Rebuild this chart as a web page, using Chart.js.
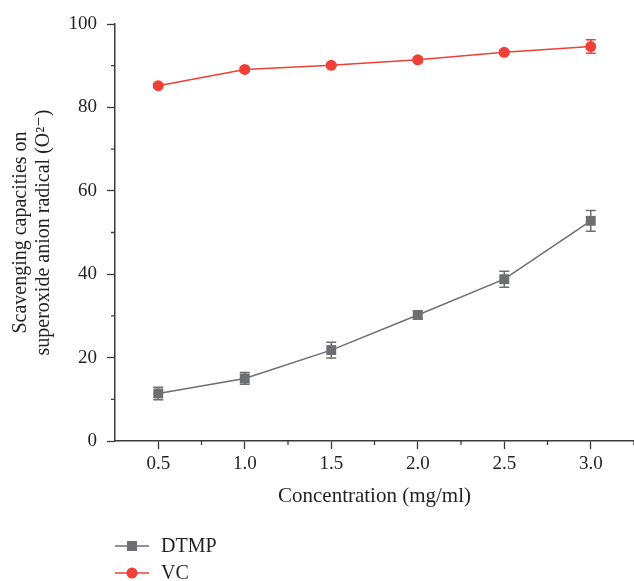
<!DOCTYPE html>
<html>
<head>
<meta charset="utf-8">
<script src="https://cdn.jsdelivr.net/npm/chart.js@4"></script>
<style>
  html, body { margin: 0; padding: 0; background: #fff; }
  #wrap { width: 634px; height: 581px; }
</style>
</head>
<body>
<div id="wrap"><canvas id="scavenging-chart" width="634" height="581"></canvas></div>
<script>
// values
const concentrations = [0.5, 1.0, 1.5, 2.0, 2.5, 3.0];
const dtmpValues = [11.4, 15.0, 21.8, 30.2, 38.8, 52.8];
const dtmpErrors = [1.5, 1.4, 1.9, 1.0, 1.9, 2.5];
const vcValues = [85.2, 89.1, 90.1, 91.4, 93.2, 94.6];
const vcErrors = [0.5, 0.5, 0.5, 0.6, 0.6, 1.6];
const xTicks = [0.5, 1.0, 1.5, 2.0, 2.5, 3.0];
const xMinorTicks = [0.75, 1.25, 1.75, 2.25, 2.75, 3.25];
const yTicks = [0, 20, 40, 60, 80, 100];
const yMinorTicks = [10, 30, 50, 70, 90];

const GRAY = "#6d6e71";
const RED = "#ee4036";
const AXIS = "#3a3a3a";
const TEXT = "#231f20";
const SERIF = "'Liberation Serif', 'DejaVu Serif', serif";

function points(values) {
  return concentrations.map((c, i) => ({ x: c, y: values[i] }));
}

const errorBars = {
  id: "errorBars",
  beforeDatasetsDraw(chart) {
    const ctx = chart.ctx;
    const ys = chart.scales.y;
    chart.data.datasets.forEach((ds, di) => {
      const meta = chart.getDatasetMeta(di);
      ctx.save();
      ctx.strokeStyle = ds.borderColor;
      ctx.lineWidth = 1.5;
      meta.data.forEach((pt, i) => {
        let err = ds.errors[i];
        let top = ys.getPixelForValue(ds.data[i].y + err);
        let bot = ys.getPixelForValue(ds.data[i].y - err);
        ctx.beginPath();
        ctx.moveTo(pt.x, top); ctx.lineTo(pt.x, bot);
        ctx.moveTo(pt.x - 5, top); ctx.lineTo(pt.x + 5, top);
        ctx.moveTo(pt.x - 5, bot); ctx.lineTo(pt.x + 5, bot);
        ctx.stroke();
      });
      ctx.restore();
    });
  },
};

const minorTicks = {
  id: "minorTicks",
  afterDraw(chart) {
    const ctx = chart.ctx;
    const { x, y } = chart.scales;
    const area = chart.chartArea;
    ctx.save();
    ctx.strokeStyle = AXIS;
    ctx.lineWidth = 1.3;
    ctx.beginPath();
    for (let v of yMinorTicks) {
      let py = y.getPixelForValue(v);
      ctx.moveTo(area.left - 4, py); ctx.lineTo(area.left, py);
    }
    for (let v of xMinorTicks) {
      let px = x.getPixelForValue(v);
      ctx.moveTo(px, area.bottom); ctx.lineTo(px, area.bottom + 4);
    }
    ctx.stroke();
    ctx.restore();
  },
};

const bottomLegend = {
  id: "bottomLegend",
  afterDraw(chart) {
    const ctx = chart.ctx;
    ctx.save();
    chart.data.datasets.forEach((ds, i) => {
      let cy = 546 + i * 27;
      ctx.strokeStyle = ds.borderColor;
      ctx.lineWidth = 1.5;
      ctx.beginPath();
      ctx.moveTo(115, cy); ctx.lineTo(149, cy);
      ctx.stroke();
      ctx.fillStyle = ds.pointBackgroundColor;
      if (ds.pointStyle === "rect") {
        ctx.fillRect(127, cy - 5, 10, 10);
      } else {
        ctx.beginPath();
        ctx.arc(132, cy, 5.5, 0, Math.PI * 2);
        ctx.fill();
      }
      ctx.fillStyle = TEXT;
      ctx.font = "20px " + SERIF;
      ctx.textBaseline = "middle";
      ctx.fillText(ds.label, 161, cy + 1);
    });
    ctx.restore();
  },
};

new Chart(document.getElementById("scavenging-chart"), {
  type: "line",
  data: {
    datasets: [
      {
        label: "DTMP",
        data: points(dtmpValues),
        errors: dtmpErrors,
        borderColor: GRAY,
        borderWidth: 1.5,
        pointStyle: "rect",
        pointRadius: 7,
        pointBackgroundColor: GRAY,
        pointBorderColor: GRAY,
        pointBorderWidth: 0,
        clip: false,
      },
      {
        label: "VC",
        data: points(vcValues),
        errors: vcErrors,
        borderColor: RED,
        borderWidth: 1.5,
        pointStyle: "circle",
        pointRadius: 5.5,
        pointBackgroundColor: RED,
        pointBorderColor: RED,
        pointBorderWidth: 0,
        clip: false,
      },
    ],
  },
  options: {
    responsive: false,
    animation: false,
    layout: { autoPadding: false, padding: { top: 24, right: 0, bottom: 72, left: 0 } },
    plugins: { legend: { display: false }, tooltip: { enabled: false } },
    scales: {
      x: {
        type: "linear",
        min: 0.25,
        max: 3.25,
        afterBuildTicks: (s) => { s.ticks = xTicks.map((v) => ({ value: v })); },
        afterFit: (s) => { s.height = 68; },
        border: { display: true, color: AXIS, width: 1.5 },
        grid: { drawOnChartArea: false, drawTicks: true, tickLength: 8, color: AXIS, tickWidth: 1.3 },
        ticks: {
          padding: 4,
          color: TEXT,
          font: { family: SERIF, size: 19 },
          callback: (v) => Number(v).toFixed(1),
        },
        title: {
          display: true,
          text: "Concentration (mg/ml)",
          color: TEXT,
          font: { family: SERIF, size: 21 },
          padding: { top: 0, bottom: 0 },
        },
      },
      y: {
        min: 0,
        max: 100,
        afterBuildTicks: (s) => { s.ticks = yTicks.map((v) => ({ value: v })); },
        afterFit: (s) => { s.width = 115; },
        border: { display: true, color: AXIS, width: 1.5 },
        grid: { drawOnChartArea: false, drawTicks: true, tickLength: 8, color: AXIS, tickWidth: 1.3 },
        ticks: {
          padding: 10,
          color: TEXT,
          font: { family: SERIF, size: 19 },
        },
        title: {
          display: true,
          text: ["Scavenging capacities on", "superoxide anion radical (O²⁻)"],
          color: TEXT,
          font: { family: SERIF, size: 20, lineHeight: 1.15 },
          padding: { top: 9, bottom: 0 },
        },
      },
    },
  },
  plugins: [errorBars, minorTicks, bottomLegend],
});
</script>
</body>
</html>
